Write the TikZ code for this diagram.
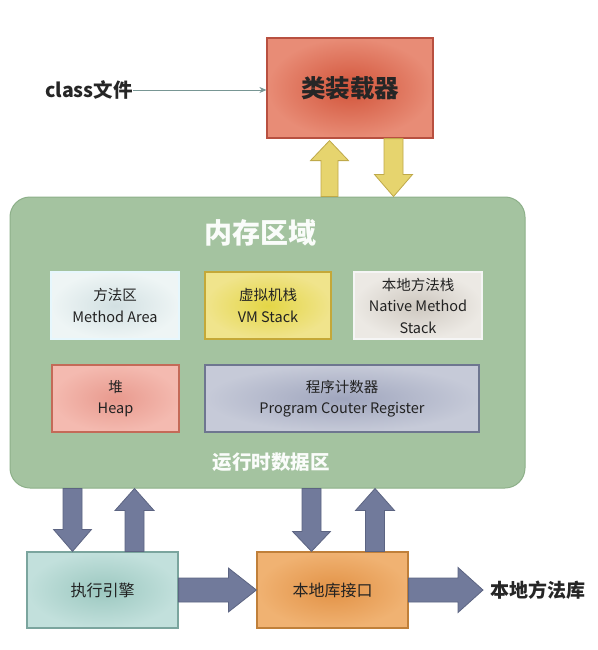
\documentclass[tikz,border=0pt]{standalone}
\usepackage{fontspec}
\setmainfont{Noto Sans CJK SC}
\usetikzlibrary{calc,arrows.meta}
\definecolor{greenbg}{HTML}{A4C3A0}
\definecolor{greenbd}{HTML}{8DB089}
\definecolor{slatef}{HTML}{717A9B}
\definecolor{slated}{HTML}{5C6482}
\definecolor{yelf}{HTML}{E6D46E}
\definecolor{yeld}{HTML}{BFA94A}
\definecolor{txt}{HTML}{222222}
\newcommand{\blockarr}[6]{% style, tail, tip, shaft half, head half, head length
  \coordinate (bT) at (#2);
  \coordinate (bP) at (#3);
  \coordinate (bH) at ($(bP)!#6pt!(bT)$);
  \draw[#1] ($(bT)!#4pt!90:(bP)$) -- ($(bH)!#4pt!-90:(bT)$) -- ($(bH)!#5pt!-90:(bT)$)
    -- (bP) -- ($(bH)!#5pt!90:(bT)$) -- ($(bH)!#4pt!90:(bT)$) -- ($(bT)!#4pt!-90:(bP)$) -- cycle;
}
\tikzset{
  box/.style={draw, line width=1.2pt, shading=radial, align=center, text=txt,
    inner sep=0pt, font=\fontsize{14.5}{21.5}\selectfont},
  slatearr/.style={fill=slatef, draw=slated, line width=0.8pt, line join=miter},
  yelarr/.style={fill=yelf, draw=yeld, line width=0.8pt},
}
\begin{document}
\begin{tikzpicture}[x=1pt,y=-1pt]
\useasboundingbox[fill=white] (0,0) rectangle (597,650);

% memory region
\node[draw=greenbd, fill=greenbg, line width=1pt, rounded corners=20pt,
  minimum width=515pt, minimum height=291pt, inner sep=0pt] (mem) at (267.5,342.5) {};
\node[text=white!95!greenbg, font=\bfseries\fontsize{28}{30}\selectfont] (title) at (260,233) {内存区域};
\node[text=white!95!greenbg, font=\bfseries\fontsize{19.5}{22}\selectfont] (rt) at (271,462) {运行时数据区};

% class loader
\node[box, draw={rgb,255:red,184;green,80;blue,64}, inner color={rgb,255:red,210;green,84;blue,58},
  outer color={rgb,255:red,232;green,140;blue,118}, minimum width=166pt, minimum height=100pt,
  font=\bfseries\fontsize{24.5}{26}\selectfont, text=black!85] (loader) at (350,88) {类装载器};

\node[font=\bfseries\fontsize{19.5}{22}\selectfont, anchor=east, inner sep=0pt, text=black!85] (cls) at (133,90) {class文件};
\draw[draw={rgb,255:red,120;green,150;blue,148}, line width=0.8pt, -{Stealth[length=7pt,width=6pt]}] (cls.east) -- (loader.west |- cls.east);

% inner boxes
\node[box, draw=white!90!cyan, inner color={rgb,255:red,210;green,224;blue,226},
  outer color={rgb,255:red,238;green,245;blue,245}, minimum width=128pt, minimum height=67pt] (ma) at (115,305.5) {方法区\\Method Area};
\node[box, draw={rgb,255:red,196;green,168;blue,56}, inner color={rgb,255:red,228;green,214;blue,70},
  outer color={rgb,255:red,240;green,228;blue,140}, minimum width=126pt, minimum height=67pt] (vm) at (268,305.5) {虚拟机栈\\VM Stack};
\node[box, draw=white!92!gray, inner color={rgb,255:red,206;green,200;blue,192},
  outer color={rgb,255:red,236;green,233;blue,228}, minimum width=128pt, minimum height=67pt] (nat) at (418,305.5) {本地方法栈\\Native Method\\Stack};
\node[box, draw={rgb,255:red,196;green,106;blue,88}, inner color={rgb,255:red,232;green,154;blue,142},
  outer color={rgb,255:red,244;green,186;blue,176}, minimum width=127pt, minimum height=67pt] (heap) at (115.5,398.5) {堆\\Heap};
\node[box, draw={rgb,255:red,110;green,118;blue,144}, inner color={rgb,255:red,160;green,166;blue,190},
  outer color={rgb,255:red,198;green,202;blue,216}, minimum width=274pt, minimum height=67pt] (pc) at (342,398.5) {程序计数器\\Program Couter Register};

% bottom boxes
\node[box, draw={rgb,255:red,123;green,165;blue,158}, inner color={rgb,255:red,156;green,200;blue,192},
  outer color={rgb,255:red,194;green,224;blue,220}, minimum width=151pt, minimum height=76pt,
  font=\fontsize{16}{18}\selectfont] (exe) at (102.5,590) {执行引擎};
\node[box, draw={rgb,255:red,192;green,128;blue,58}, inner color={rgb,255:red,226;green,146;blue,70},
  outer color={rgb,255:red,240;green,178;blue,114}, minimum width=151pt, minimum height=76pt,
  font=\fontsize{16}{18}\selectfont] (jni) at (332.5,590) {本地库接口};
\node[font=\bfseries\fontsize{19}{21}\selectfont, anchor=west, inner sep=0pt, text=black!85] (lib) at (490,590) {本地方法库};

% yellow arrows
\blockarr{yelarr}{$(loader.south |- mem.north)+(-20.5,0)$}{$(loader.south)+(-20.5,2)$}{8.5}{19}{20}
\blockarr{yelarr}{$(loader.south)+(43.5,0)$}{$(loader.south |- mem.north)+(43.5,0)$}{9.5}{19}{22}

% slate arrows
\blockarr{slatearr}{$(exe.north |- mem.south)+(-30,0)$}{$(exe.north)+(-30,0)$}{9.5}{19}{22}
\blockarr{slatearr}{$(exe.north)+(32,0)$}{$(exe.north |- mem.south)+(32,0)$}{9.5}{19.5}{22}
\blockarr{slatearr}{$(jni.north |- mem.south)+(-21,0)$}{$(jni.north)+(-21,0)$}{9.5}{19}{20}
\blockarr{slatearr}{$(jni.north)+(42.5,0)$}{$(jni.north |- mem.south)+(42.5,0)$}{9.5}{19.5}{22}
\blockarr{slatearr}{exe.east}{jni.west}{12}{22}{28}
\blockarr{slatearr}{jni.east}{$(lib.west)+(-7,0)$}{12}{22.5}{25}
\end{tikzpicture}
\end{document}
